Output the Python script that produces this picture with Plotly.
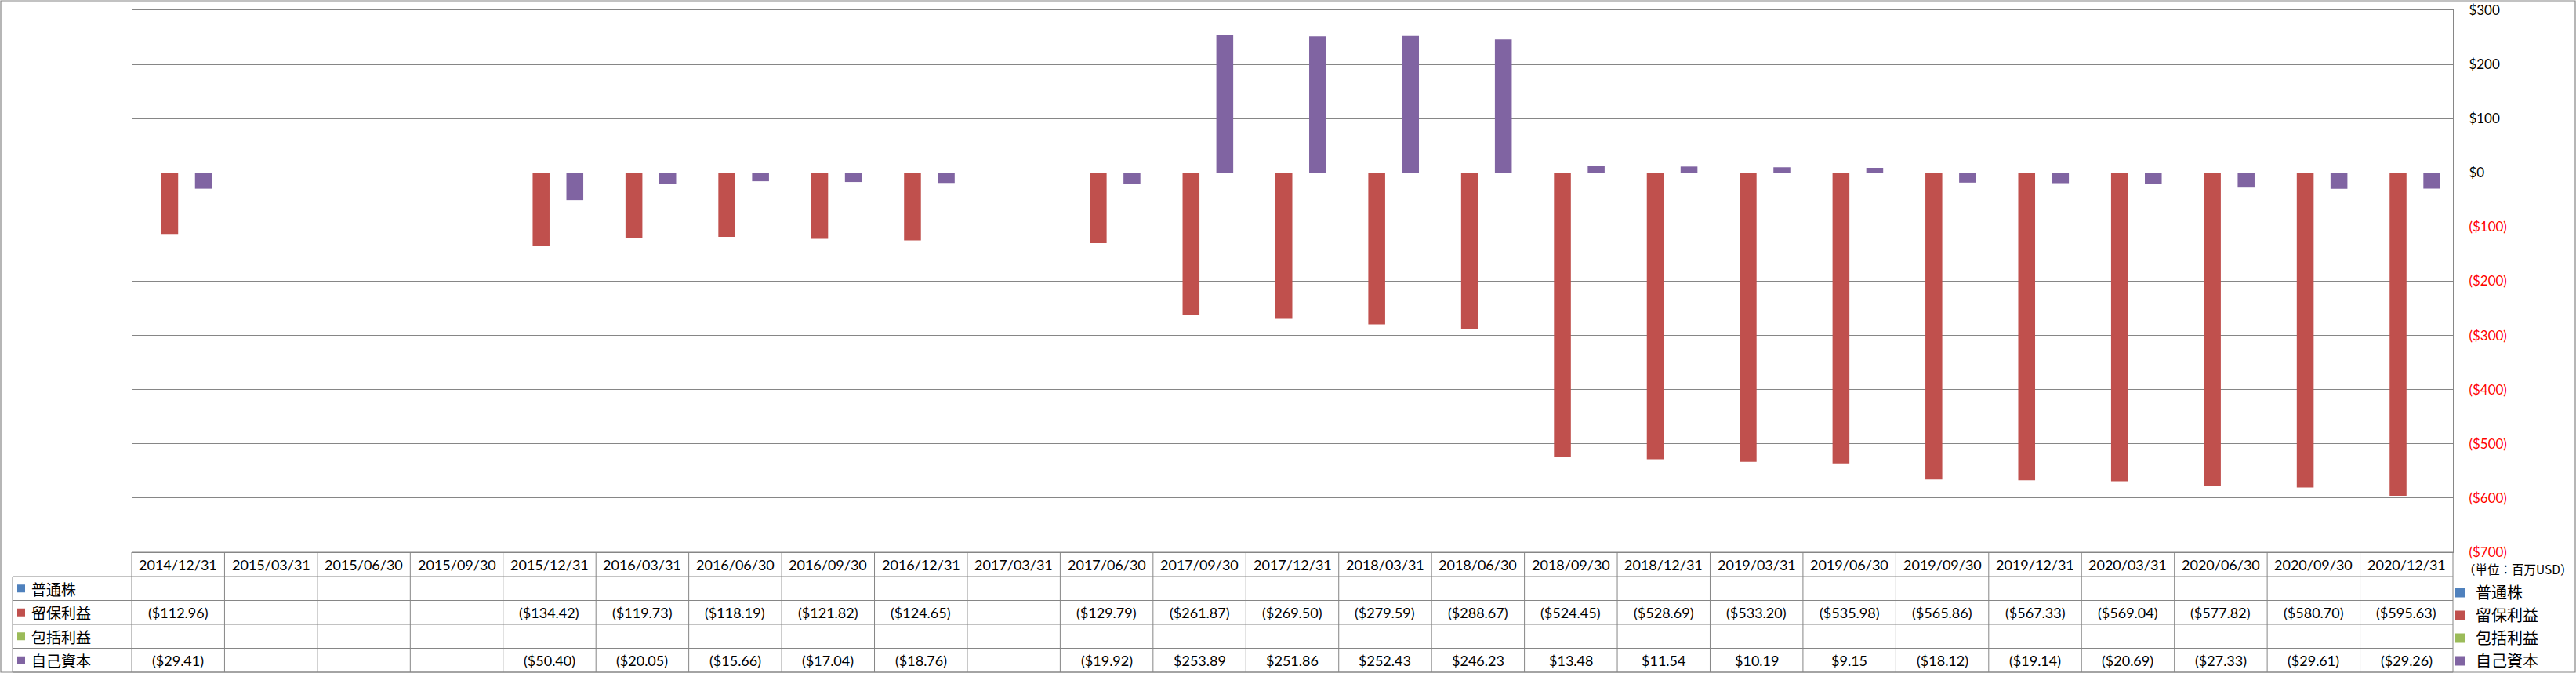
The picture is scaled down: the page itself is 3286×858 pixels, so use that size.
import plotly.graph_objects as go

# ---------------- data ----------------
categories = ["2014/12/31", "2015/03/31", "2015/06/30", "2015/09/30", "2015/12/31",
              "2016/03/31", "2016/06/30", "2016/09/30", "2016/12/31", "2017/03/31",
              "2017/06/30", "2017/09/30", "2017/12/31", "2018/03/31", "2018/06/30",
              "2018/09/30", "2018/12/31", "2019/03/31", "2019/06/30", "2019/09/30",
              "2019/12/31", "2020/03/31", "2020/06/30", "2020/09/30", "2020/12/31"]

common_stock = [None, None, None, None, None, None, None, None, None, None,
                None, None, None, None, None, None, None, None, None, None,
                None, None, None, None, None]
retained_earnings = [-112.96, None, None, None, -134.42, -119.73, -118.19, -121.82, -124.65, None,
                     -129.79, -261.87, -269.50, -279.59, -288.67, -524.45, -528.69, -533.20, -535.98,
                     -565.86, -567.33, -569.04, -577.82, -580.70, -595.63]
comprehensive_income = [None, None, None, None, None, None, None, None, None, None,
                        None, None, None, None, None, None, None, None, None, None,
                        None, None, None, None, None]
treasury_stock = [-29.41, None, None, None, -50.40, -20.05, -15.66, -17.04, -18.76, None,
                  -19.92, 253.89, 251.86, 252.43, 246.23, 13.48, 11.54, 10.19, 9.15,
                  -18.12, -19.14, -20.69, -27.33, -29.61, -29.26]

series_names = ["普通株", "留保利益", "包括利益", "自己資本"]
series_values = [common_stock, retained_earnings, comprehensive_income, treasury_stock]
series_colors = ["#4F81BD", "#C0504D", "#9BBB59", "#8064A2"]

y_ticks = [300, 200, 100, 0, -100, -200, -300, -400, -500, -600, -700]
unit_label = "（単位：百万USD）"

# ---------------- layout geometry (pixels) ----------------
W, H = 3286, 858
PL, PR, PT, PB = 168, 3129, 13, 704
GRID = "#868686"
NUM_FONT = "Lato, 'Noto Sans', sans-serif"
CJK_FONT = "'Noto Sans CJK JP', 'Noto Sans CJK SC', sans-serif"


def fx(px):
    return (px - PL) / (PR - PL)


def fy(py):
    return (PB - py) / (PB - PT)


def money(v):
    if v is None:
        return ""
    if v < 0:
        return "(${:,.2f})".format(-v)
    return "${:,.2f}".format(v)


def money_tick(v):
    if v < 0:
        return '<span style="color:#FF0000">(${:,.0f})</span>'.format(-v)
    return "${:,.0f}".format(v)


fig = go.Figure()
for name, vals, col in zip(series_names, series_values, series_colors):
    fig.add_trace(go.Bar(x=categories, y=vals, name=name, marker=dict(color=col, line=dict(width=0)),
                         hoverinfo="x+y+name"))

n = len(categories)
row_top = [704, 735, 765.5, 796, 826.5, 857]

shapes = []
line = dict(color=GRID, width=1)
# outer chart border
shapes.append(dict(type="rect", xref="paper", yref="paper", x0=fx(1), x1=fx(3285), y0=fy(857), y1=fy(1),
                   line=dict(color=GRID, width=1.2)))
# table horizontal lines
for i, py in enumerate(row_top):
    x0 = PL if i == 0 else 16
    shapes.append(dict(type="line", xref="paper", yref="paper", x0=fx(x0), x1=fx(PR), y0=fy(py), y1=fy(py), line=line))
# table vertical lines
colw = (PR - PL) / n
for i in range(n + 1):
    px = PL + i * colw
    shapes.append(dict(type="line", xref="paper", yref="paper", x0=fx(px), x1=fx(px), y0=fy(704), y1=fy(857), line=line))
shapes.append(dict(type="line", xref="paper", yref="paper", x0=fx(16), x1=fx(16), y0=fy(735), y1=fy(857), line=line))

annotations = []
# header dates
hdr_y = fy((row_top[0] + row_top[1]) / 2)
for c in categories:
    annotations.append(dict(x=c, xref="x", y=hdr_y, yref="paper", text=c, showarrow=False,
                            font=dict(family=NUM_FONT, size=18, color="#000000"),
                            xanchor="center", yanchor="middle"))
# rows
for r, (name, vals, col) in enumerate(zip(series_names, series_values, series_colors)):
    cy = (row_top[r + 1] + row_top[r + 2]) / 2
    shapes.append(dict(type="rect", xref="paper", yref="paper", x0=fx(22), x1=fx(32), y0=fy(cy + 5), y1=fy(cy - 5),
                       fillcolor=col, line=dict(width=0)))
    annotations.append(dict(x=fx(38), xref="paper", y=fy(cy), yref="paper", text=name, showarrow=False,
                            font=dict(family=CJK_FONT, size=19, color="#000000"),
                            xanchor="left", yanchor="middle"))
    for c, v in zip(categories, vals):
        if v is None:
            continue
        annotations.append(dict(x=c, xref="x", y=fy(cy), yref="paper", text=money(v), showarrow=False,
                                font=dict(family=NUM_FONT, size=18, color="#000000"),
                                xanchor="center", yanchor="middle"))
# unit label
annotations.append(dict(x=fx(3140), xref="paper", y=fy(725), yref="paper", text=unit_label, showarrow=False,
                        font=dict(family=CJK_FONT, size=15.5, color="#000000"),
                        xanchor="left", yanchor="middle"))

fig.update_layout(
    width=W, height=H,
    margin=dict(l=PL, r=W - PR, t=PT, b=H - PB, autoexpand=False),
    paper_bgcolor="#FFFFFF", plot_bgcolor="#FFFFFF",
    barmode="group", bargap=1.5 / 5.5, bargroupgap=0,
    showlegend=True,
    legend=dict(x=fx(3118), xanchor="left", y=fy(736), yanchor="top",
                font=dict(family=CJK_FONT, size=20, color="#000000"),
                bgcolor="rgba(0,0,0,0)", borderwidth=0, traceorder="normal",
                itemclick=False, itemdoubleclick=False),
    xaxis=dict(type="category", range=[-0.5, n - 0.5], showticklabels=False, showgrid=False,
               showline=True, linecolor=GRID, linewidth=1, mirror=True, ticks="", zeroline=False),
    yaxis=dict(side="right", range=[-700, 300], tickmode="array", tickvals=y_ticks,
               ticktext=[money_tick(v) for v in y_ticks], showgrid=True, gridcolor=GRID, gridwidth=1,
               zeroline=True, zerolinecolor=GRID, zerolinewidth=1,
               showline=True, linecolor=GRID, linewidth=1, ticks="", ticklabelstandoff=16,
               tickfont=dict(family=NUM_FONT, size=17, color="#000000")),
    shapes=shapes, annotations=annotations,
)

fig.write_html("out.html")
